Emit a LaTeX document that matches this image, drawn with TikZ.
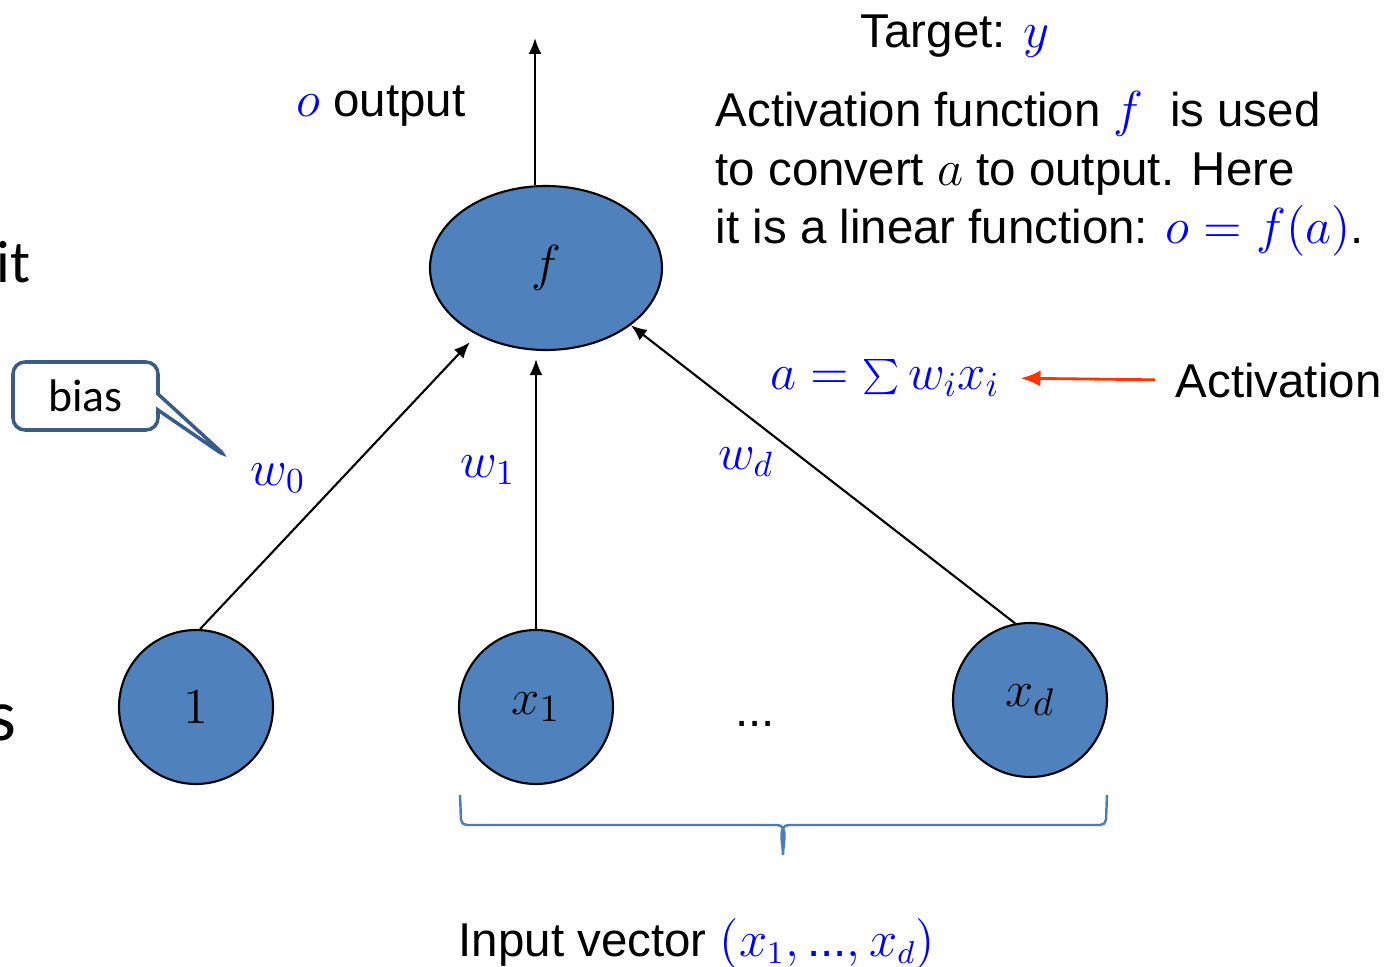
\documentclass[tikz,border=0pt]{standalone}
\usepackage{fontspec}
\setmainfont{Liberation Sans}
\newfontfamily\calibrifont{Carlito}
\usetikzlibrary{arrows.meta,shapes.geometric,shapes.callouts,positioning,calc}
\definecolor{nodeblue}{RGB}{79,129,189}
\definecolor{mathblue}{RGB}{0,0,255}
\definecolor{calloutblue}{RGB}{56,93,138}
\definecolor{bracecol}{RGB}{74,126,187}
\definecolor{actred}{RGB}{255,51,0}

\begin{document}
\begin{tikzpicture}[
  unit/.style={circle, draw=black, fill=nodeblue, line width=0.6pt, minimum size=1.54cm, inner sep=0pt, font=\fontsize{15}{18}\selectfont},
  sumunit/.style={ellipse, draw=black, fill=nodeblue, line width=0.6pt, minimum width=2.32cm, minimum height=1.64cm, inner sep=0pt, font=\fontsize{15}{18}\selectfont},
  arr/.style={line width=0.6pt, -{Latex[length=1.6mm,width=1.3mm]}},
  redarr/.style={actred, line width=0.8pt, -{Latex[length=2mm,width=1.6mm]}},
  lbl/.style={text=mathblue, inner sep=0pt, font=\fontsize{14}{17}\selectfont},
  txt/.style={inner sep=0pt, font=\fontsize{13.5}{16}\selectfont},
  blk/.style={txt, anchor=base west},
  biasbox/.style={rectangle callout, draw=calloutblue, line width=1pt, rounded corners=0.12cm, minimum width=1.45cm, minimum height=0.68cm, callout pointer width=0.16cm, font=\calibrifont\fontsize{13}{15}\selectfont},
  bracestyle/.style={bracecol, line width=0.7pt},
]
\clip (0,0) rectangle (13.93,9.66);

\node[sumunit] (F) at (5.46,6.98) {$f$};
\node[unit] (U0) at (1.96,2.59) {$1$};
\node[unit] (U1) at (5.36,2.59) {$x_1$};
\node[unit] (Ud) at (10.30,2.66) {$x_d$};
\node[txt, anchor=base] (dots) at (7.55,2.40) {...};
\coordinate (top) at (5.35,9.28);

\path[arr]
(U0.87) edge[shorten >=0.1cm] (F.224)
(U1.north) edge[shorten >=0.08cm] (U1.north |- F.south)
(Ud.101) edge (F.326)
(top |- F.north) edge (top);

\node[lbl] (w0) at (2.78,4.88) {$w_0$};
\node[lbl] (w1) at (4.88,4.96) {$w_1$};
\node[lbl] (wd) at (7.46,5.04) {$w_d$};

\node[txt, anchor=base east] (out) at (4.66,8.49) {\textcolor{mathblue}{$o$} output};
\node[txt, anchor=base west] (target) at (8.60,9.18) {Target: \textcolor{mathblue}{$y$}};

\node[blk] (blk1) at (7.15,8.39) {Activation function \textcolor{mathblue}{$f$}\ \ is used};
\node[blk] (blk2) at (7.15,7.81) {to convert $a$ to output. Here};
\node[blk] (blk3) at (7.15,7.23) {it is a linear function: \textcolor{mathblue}{$o=f(a)$}.};

\node[lbl] (act) at (8.85,5.88) {$a=\sum w_i x_i$};
\node[txt, anchor=base west] (actname) at (11.75,5.69) {Activation};
\draw[redarr, shorten <=0.2cm, shorten >=0.2cm] (actname.west) -- (act.east);

\coordinate (wtip) at (2.28,5.08);
\node[biasbox, callout absolute pointer={(wtip)}] (bias) at (0.855,5.70) {bias};

\coordinate (bl) at (4.60,1.71);
\coordinate (br) at (11.07,1.71);
\coordinate (bm) at (7.83,1.11);
\draw[bracestyle] (bl) -- ++(0.01,-0.25) to[out=-85,in=180] ++(0.06,-0.05) -- ($(bm)+(-0.06,0.30)$) to[out=0,in=90] (bm)
  to[out=90,in=180] ($(bm)+(0.06,0.30)$) -- ($(br)+(-0.07,-0.30)$) to[out=0,in=-95] ++(0.06,0.05) -- (br);

\node[txt, anchor=base west] (inp) at (4.58,0.10) {Input vector \textcolor{mathblue}{$(x_1,\mbox{...},x_d)$}};

\node[inner sep=0pt, anchor=base east, font=\calibrifont\fontsize{17}{20}\selectfont] (cutit) at (0.31,6.83) {it};
\node[inner sep=0pt, anchor=base east, font=\calibrifont\fontsize{21}{24}\selectfont] (cuts) at (0.17,2.26) {s};
\end{tikzpicture}
\end{document}
